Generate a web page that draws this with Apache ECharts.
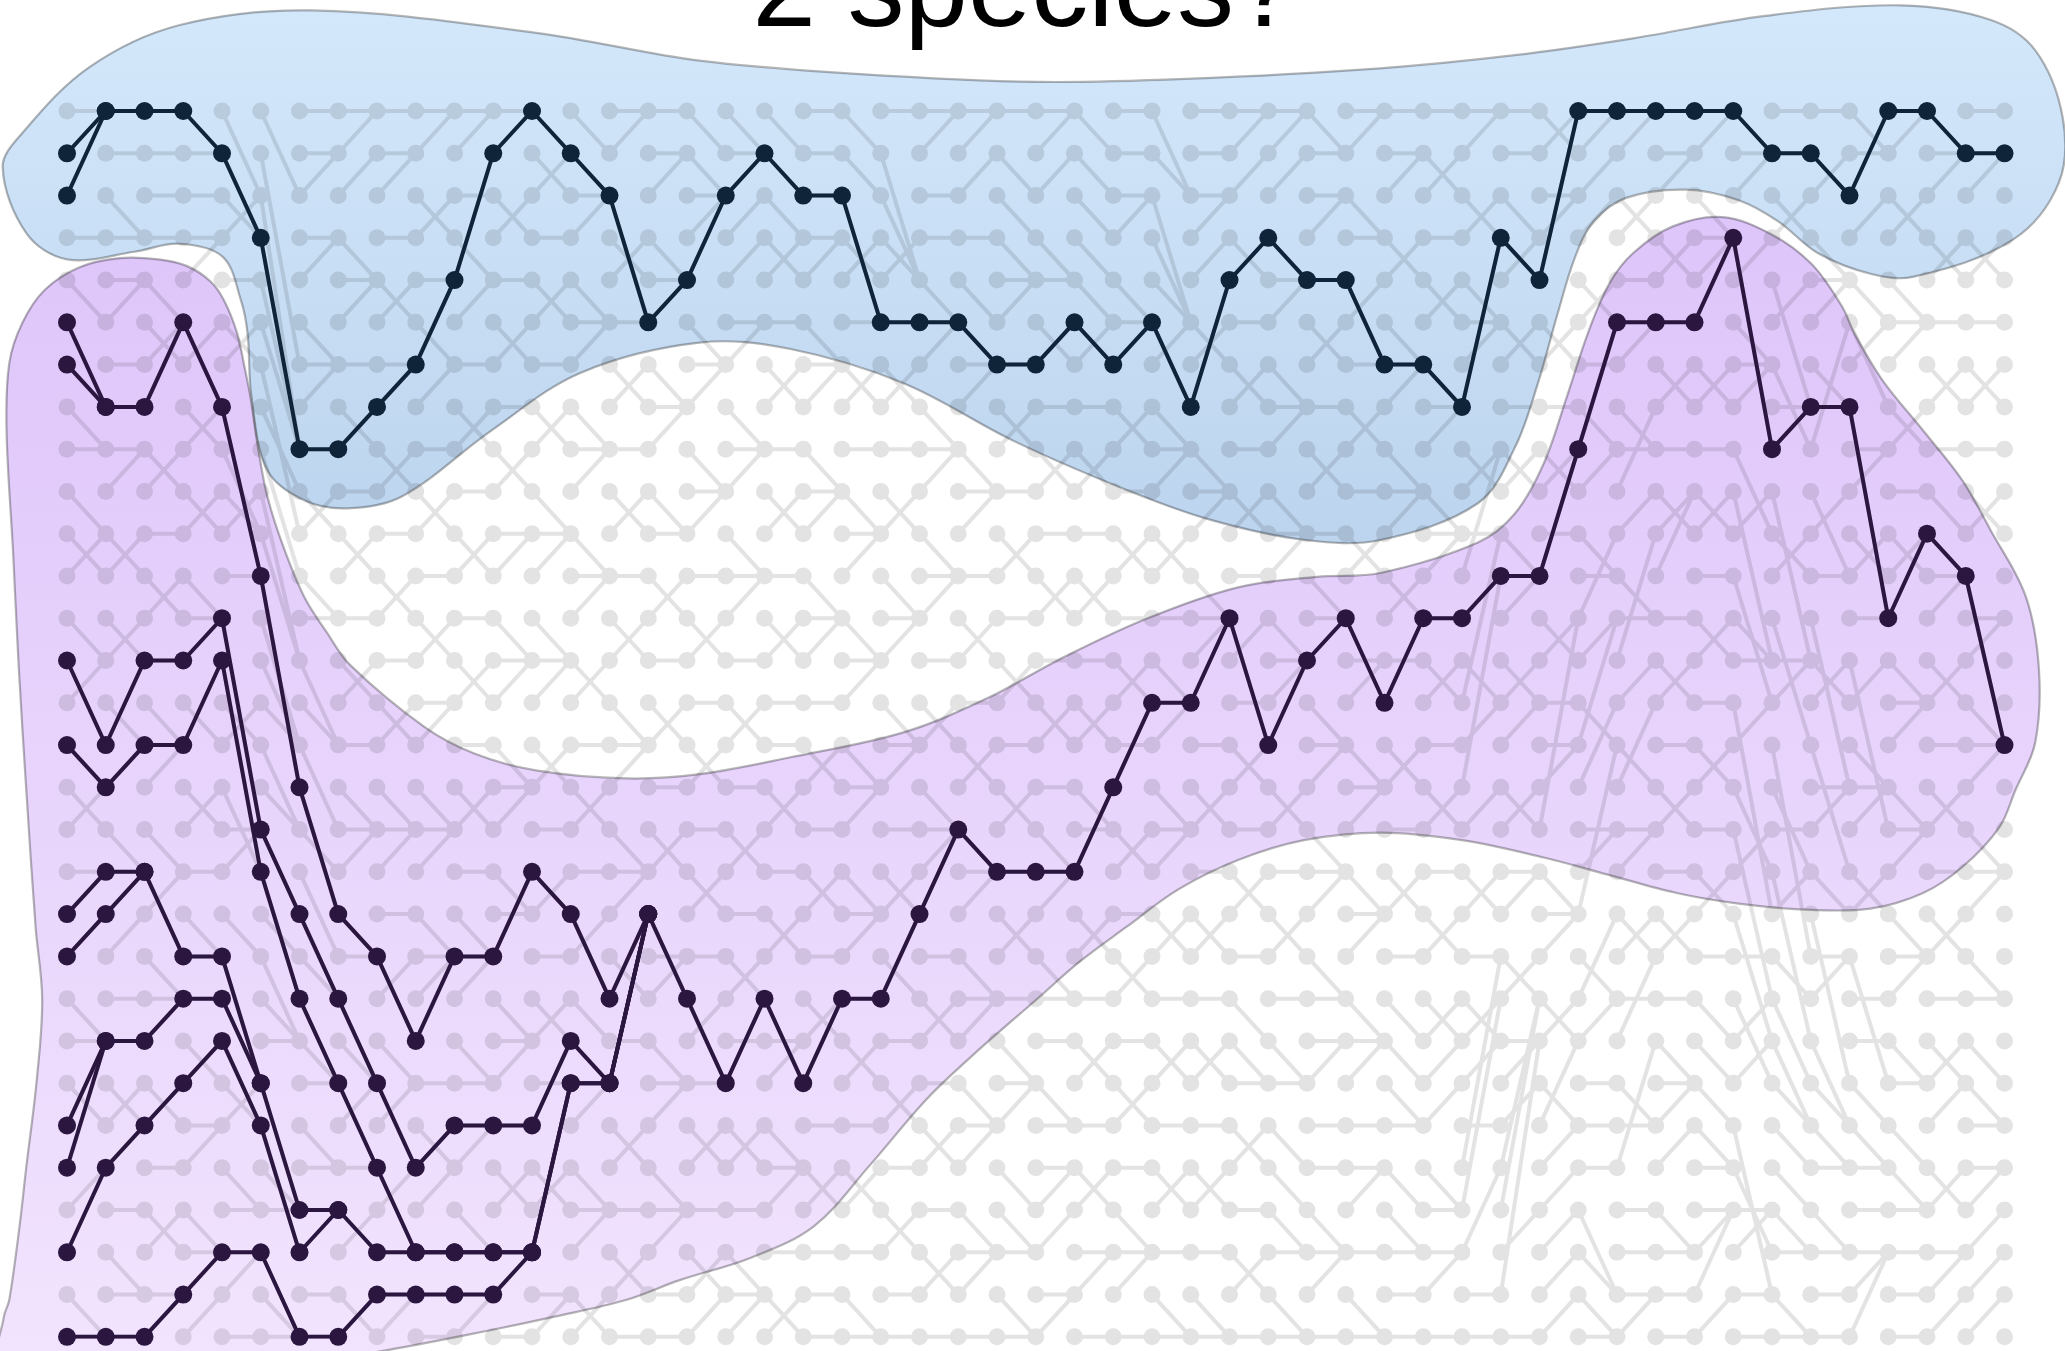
<!DOCTYPE html>
<html><head><meta charset="utf-8">
<script src="https://cdn.jsdelivr.net/npm/echarts@6/dist/echarts.min.js"></script>
<style>html,body{margin:0;padding:0;background:#fff;}#c{width:2065px;height:1351px;}</style>
</head><body><div id="c"></div>
<script>
// ---- data (columns 0..50, rows 0..29, row 0 at top) ----
const NCOLS = 51;
const NROWS = 30;
const titleText = '2 species?';

// blue lineages: row per column, starting at column 0
const blueMain = [1,0,0,0,1,3,8,8,7,6,4,1,0,1,2,5,4,2,1,2,2,5,5,5,6,6,5,6,5,7,4,3,4,4,6,6,7,3,4,0,0,0,0,0,1,1,2,0,0,1,1];
const blueBranch1 = [2,0];

// purple lineages: row per column, starting at column 0
const purpleMain = [5,7,7,5,7,11,16,19,20,22,20,20,18,19,21,19,21,23,21,23,21,21,19,17,18,18,18,16,14,14,12,15,13,12,14,12,12,11,11,8,5,5,5,3,8,7,7,12,10,11,15];
const purpleBranch1 = [6,7];
const purpleBranch2 = [13,15,13,13,12,17,19,21,23,25,24,24,24,22,23,19];
const purpleBranch3 = [15,16,15,15,13,18,21,23,25,27,27,27,27,23,23,19];
const purpleBranch4 = [19,18,18];
const purpleBranch5 = [20,19,18,20,20,23,26,26,27,27,27,27,27,23,23,19];
const purpleBranch6 = [24,22,22,21,21,23];
const purpleBranch7 = [25,22];
const purpleBranch8 = [27,25,24,23,22,24,27,26];
const purpleBranch9 = [29,29,29,28,27,27,29,29,28,28,28,28,27];

// background genealogy: for each column c (0..49), the row of the parent in column c+1 for rows 0..29 (estimated)
const parentsCols0to9 = [
  [0,0,0,3,5,7,7,8,8,10,11,10,13,15,13,16,17,16,18,18,19,22,22,24,22,22,25,25,29,29],
  [0,1,3,3,4,4,6,7,8,8,11,10,13,12,15,13,15,18,18,18,19,21,22,24,23,24,26,28,28,29],
  [0,1,2,3,5,6,5,5,9,8,10,12,11,13,15,15,15,18,20,18,21,21,21,24,23,25,27,26,28,28],
  [1,1,2,3,3,7,5,8,7,10,9,12,12,12,15,13,17,16,18,20,20,21,23,22,24,24,27,27,27,28],
  [2,3,3,2,4,6,5,11,10,10,9,11,17,18,15,14,18,17,17,20,23,23,24,24,23,26,26,27,27,29],
  [2,6,8,8,8,8,10,9,11,13,13,16,15,15,15,17,17,19,21,20,22,22,22,26,27,26,26,29,29,29],
  [0,1,1,3,3,6,6,6,8,10,9,12,12,15,15,17,19,18,20,21,21,23,23,23,25,25,26,26,28,29],
  [0,0,1,4,4,4,6,8,7,9,11,10,12,14,13,15,17,17,17,20,20,23,23,25,23,25,27,26,29,28],
  [0,1,1,3,5,4,6,6,9,8,10,12,11,13,15,14,17,17,17,19,22,20,23,25,23,27,25,27,28,28],
  [0,0,3,2,4,6,4,6,8,10,9,11,13,12,14,14,17,17,17,20,20,20,20,23,25,24,25,27,28,29]
];
const parentsCols10to19 = [
  [0,0,2,4,1,4,6,8,7,9,11,10,12,14,13,15,17,16,18,20,20,20,23,23,24,24,27,27,28,28],
  [0,0,3,2,4,6,5,7,9,8,10,10,13,13,13,16,16,16,19,19,18,22,22,22,24,26,25,27,27,29],
  [1,2,1,3,5,4,6,8,7,10,10,10,13,13,13,16,15,17,19,18,20,22,21,23,22,26,25,23,28,28],
  [1,2,2,2,5,5,5,8,8,8,11,11,11,14,13,15,17,16,18,21,19,22,23,23,23,26,26,26,29,28],
  [0,0,5,4,3,5,7,6,8,10,9,11,13,12,15,15,15,18,18,18,21,19,22,19,25,24,26,28,27,29],
  [0,1,1,4,4,4,7,7,7,10,10,12,11,13,15,14,16,18,17,21,20,20,23,23,23,26,26,26,28,29],
  [1,2,2,2,2,6,6,6,9,9,9,11,13,12,14,16,15,17,19,18,20,23,21,23,25,24,26,28,27,28],
  [1,1,1,2,3,5,5,8,8,8,11,11,11,13,15,14,16,18,17,19,21,20,22,21,25,24,26,28,28,28],
  [1,2,3,4,3,5,7,6,8,10,9,11,13,12,14,15,17,16,18,20,19,23,22,22,25,25,25,27,29,28],
  [0,1,2,3,3,6,6,6,9,9,9,12,12,12,14,16,15,17,19,18,20,22,21,21,24,26,25,27,28,29]
];
const parentsCols20to29 = [
  [1,2,5,4,3,5,7,6,8,10,10,10,13,13,13,16,16,16,19,19,19,21,23,22,24,26,25,27,29,29],
  [0,4,4,4,3,5,7,6,8,10,9,12,12,12,15,15,15,17,19,18,21,19,22,24,23,25,27,26,28,29],
  [0,0,2,3,5,5,5,8,8,8,11,11,11,13,15,14,17,17,17,17,20,22,21,23,25,24,26,28,27,29],
  [0,0,1,3,5,6,6,6,9,9,9,11,13,12,14,16,15,18,18,18,21,21,21,24,24,24,27,27,27,29],
  [0,2,3,4,4,4,6,8,7,9,11,10,12,14,13,15,17,16,18,20,19,21,23,23,23,26,27,27,29,29],
  [0,0,1,4,4,6,5,7,9,8,10,12,11,13,15,14,16,18,18,18,21,21,22,24,24,25,25,26,28,28],
  [1,2,3,4,5,6,5,7,9,8,10,12,11,13,15,14,17,17,16,20,19,21,23,22,24,26,25,27,27,29],
  [0,1,2,2,5,5,5,8,7,9,11,10,12,14,13,15,14,18,17,19,21,20,22,24,23,25,27,27,27,29],
  [2,2,5,5,5,7,5,8,8,8,11,10,12,14,14,14,17,17,17,20,19,21,23,22,24,26,25,27,29,29],
  [0,1,2,2,3,6,5,4,9,9,9,12,12,12,12,15,17,16,18,20,19,21,23,22,24,26,25,27,29,29]
];
const parentsCols30to39 = [
  [0,0,1,4,3,5,7,6,8,10,9,11,15,12,14,16,15,17,19,18,20,22,23,23,25,24,26,28,27,29],
  [0,0,1,4,4,4,7,7,7,10,10,10,13,13,13,13,17,16,18,20,19,21,23,23,25,26,27,27,29,29],
  [1,1,2,2,4,6,5,7,9,8,10,12,12,12,15,15,15,18,18,18,21,21,22,22,24,25,27,27,27,29],
  [0,0,3,3,6,4,6,8,7,9,11,10,14,13,13,16,16,16,19,19,19,22,22,22,24,25,25,27,29,29],
  [0,1,1,4,3,6,6,6,9,9,9,12,11,13,12,16,15,17,19,18,20,22,23,24,24,26,27,27,28,29],
  [0,2,1,3,5,4,7,7,7,10,10,10,12,14,13,15,17,16,18,20,19,22,21,22,23,26,26,27,27,29],
  [0,0,3,2,5,5,5,3,9,8,10,8,11,14,10,14,11,16,19,18,20,22,21,22,24,20,21,25,28,29],
  [0,1,3,4,3,6,5,7,9,8,11,11,11,14,13,14,17,16,18,18,21,20,22,22,23,21,21,26,22,29],
  [1,0,2,2,0,6,5,7,9,8,10,8,13,12,14,15,15,12,19,19,19,22,21,24,22,24,25,26,27,28],
  [0,0,1,2,5,4,6,8,5,8,11,11,10,12,15,12,14,17,17,15,21,19,21,23,24,25,28,28,29,29]
];
const parentsCols40to49 = [
  [0,0,3,2,4,5,5,8,8,7,9,12,12,10,13,16,14,17,17,20,19,21,20,24,24,22,26,27,28,28],
  [0,1,1,4,3,5,7,6,8,10,9,9,12,14,13,15,17,16,18,20,19,21,23,23,23,24,27,27,28,29],
  [0,0,3,3,3,3,7,6,8,10,9,11,13,12,14,16,15,17,19,18,20,22,23,24,25,25,26,26,26,28],
  [1,1,1,8,3,6,6,6,10,13,9,14,13,13,19,14,18,21,17,22,20,23,21,22,28,27,26,26,28,29],
  [0,1,3,2,7,4,8,7,7,13,11,10,15,13,13,20,18,17,22,18,21,23,24,24,25,26,27,27,29,29],
  [0,2,1,4,4,4,7,7,5,11,9,11,16,14,13,18,16,16,19,23,20,20,24,24,25,25,27,27,28,29],
  [1,1,0,2,5,7,5,12,8,8,11,10,12,17,13,16,16,16,19,18,23,21,22,24,25,25,26,27,27,27],
  [0,0,3,2,5,5,5,8,7,9,11,10,10,14,14,14,17,17,17,20,20,20,23,23,25,26,26,27,28,29],
  [1,1,1,4,3,5,7,6,8,10,11,11,11,14,13,15,17,16,18,20,19,21,23,22,23,26,25,27,27,28],
  [0,1,1,4,3,5,7,6,8,10,9,15,12,12,15,15,15,18,18,18,21,21,23,24,24,25,25,26,27,28]
];

// blob outlines in (column, row) units
const blueOutline = [[-1.15,0.52],[0.58,-1.04],[2.89,-2.03],[6.33,-2.38],[12.1,-1.85],[16.32,-1.19],[20.37,-0.88],[25.02,-0.69],[28.86,-0.76],[33.89,-1.01],[37.36,-1.32],[40.42,-1.72],[43.82,-2.25],[47.32,-2.5],[49.63,-2.16],[50.79,-1.44],[51.5,0.15],[51.4,1.7],[50.21,3.05],[47.66,3.92],[46.54,3.85],[45.18,3.36],[44.16,2.61],[43.14,2.11],[41.78,1.86],[40.25,2.05],[39.4,2.61],[38.92,3.45],[38.45,4.85],[37.97,6.41],[37.36,7.97],[36.41,9.28],[33.89,10.15],[31.96,10.15],[29.54,9.68],[27.33,8.96],[24.44,7.81],[21.59,6.44],[18.67,5.63],[16.32,5.48],[13.26,6.19],[10.95,7.56],[8.64,9.12],[7.24,9.4],[6.12,9.21],[5.17,8.5],[4.76,6.75],[4.66,5.26],[4.49,4.48],[4.02,3.45],[2.89,3.14],[1.74,3.33],[0,3.51],[-1.05,2.89],[-1.66,1.33]];
const purpleOutline = [[-1.49,5.97],[-1.15,5.01],[-0.57,4.23],[0.31,3.7],[1.36,3.48],[2.35,3.51],[3.1,3.67],[3.71,4.04],[4.05,4.48],[4.39,5.26],[4.59,6.1],[4.73,6.75],[4.93,7.97],[5.17,9.12],[5.58,10.3],[6.12,11.49],[6.7,12.33],[7.31,13.11],[9.22,14.57],[10.51,15.2],[12.1,15.6],[14.42,15.79],[16.32,15.69],[18.67,15.29],[21.59,14.7],[23.76,13.89],[25.6,12.98],[27.84,12.02],[30.22,11.27],[32.26,11.02],[33.89,10.93],[36.41,10.21],[37.36,9.53],[38.11,8.34],[38.72,6.72],[39.26,5.23],[39.81,4.07],[40.42,3.36],[41.44,2.73],[42.73,2.51],[43.99,2.92],[45.01,3.61],[45.79,4.6],[46.16,5.32],[46.88,6.41],[47.9,7.56],[48.92,8.75],[49.63,9.9],[50.55,11.49],[50.89,13.23],[50.79,14.95],[50.28,16.07],[49.87,16.94],[48.92,17.88],[47.9,18.5],[46.54,18.87],[45.01,18.9],[43.14,18.75],[41.54,18.5],[39.74,18.06],[38.11,17.66],[36,17.25],[33.89,17.07],[31.92,17.25],[30.22,17.72],[28.69,18.41],[27.33,19.31],[26.14,20.12],[25.02,21.02],[23.42,22.3],[22.17,23.39],[20.71,24.95],[19.28,26.38],[17.65,27.13],[15.81,27.66],[14.42,28.13],[12.55,28.53],[10.95,28.84],[8.3,29.31],[5.07,29.78],[1.67,29.93],[-1.73,29.78],[-1.63,28.53],[-1.49,28.13],[-1.22,26.35],[-1.05,24.98],[-0.78,22.92],[-0.64,21.02],[-0.81,19.31],[-1.05,16.07],[-1.25,13.08],[-1.39,10.46],[-1.56,7.56]];

// ---- build ----
function toPts(rows, start) { return rows.map((r, i) => [start + i, r]); }
const latticeDots = [];
for (let c = 0; c < NCOLS; c++) for (let r = 0; r < NROWS; r++) latticeDots.push([c, r]);
const allParents = [].concat(parentsCols0to9, parentsCols10to19, parentsCols20to29, parentsCols30to39, parentsCols40to49);
const latticeEdges = [];
allParents.forEach((col, c) => col.forEach((p, r) => latticeEdges.push([c, r, p])));

const BLUE_DARK = '#0f2339';
const PURPLE_DARK = '#2b1640';
const lineages = [
  [blueMain, BLUE_DARK], [blueBranch1, BLUE_DARK],
  [purpleMain, PURPLE_DARK], [purpleBranch1, PURPLE_DARK], [purpleBranch2, PURPLE_DARK],
  [purpleBranch3, PURPLE_DARK], [purpleBranch4, PURPLE_DARK], [purpleBranch5, PURPLE_DARK],
  [purpleBranch6, PURPLE_DARK], [purpleBranch7, PURPLE_DARK], [purpleBranch8, PURPLE_DARK],
  [purpleBranch9, PURPLE_DARK]
];

const blobs = [
  { pts: blueOutline, c0: '#d4e8fb', c1: '#bcd4ee' },
  { pts: purpleOutline, c0: '#dec5fa', c1: '#f2e4fe' }
];

const chart = echarts.init(document.getElementById('c'), null, { renderer: 'canvas' });
const series = [];
series.push({
  type: 'custom', z: 1, silent: true, animation: false, clip: false,
  data: latticeEdges,
  encode: { x: 0, y: 1 },
  renderItem: function (params, api) {
    const a = api.coord([api.value(0), api.value(1)]);
    const b = api.coord([api.value(0) + 1, api.value(2)]);
    return { type: 'line', shape: { x1: a[0], y1: a[1], x2: b[0], y2: b[1] },
      style: { stroke: '#e3e3e3', lineWidth: 4, lineCap: 'round' } };
  }
});
series.push({
  type: 'scatter', data: latticeDots, symbol: 'circle', symbolSize: 17,
  itemStyle: { color: '#e3e3e3', opacity: 1 }, silent: true, z: 1, animation: false
});
series.push({
  type: 'custom', z: 2, silent: true, animation: false, clip: false,
  blendMode: 'multiply',
  data: blobs.map((b, i) => [i]),
  renderItem: function (params, api) {
    const b = blobs[params.dataIndex];
    const points = b.pts.map(p => api.coord(p));
    return {
      type: 'polygon',
      shape: { points: points, smooth: 0.35 },
      style: {
        fill: new echarts.graphic.LinearGradient(0, 0, 0, 1, [
          { offset: 0, color: b.c0 }, { offset: 1, color: b.c1 }]),
        stroke: '#b5b5b5', lineWidth: 2.2
      }
    };
  }
});
lineages.forEach(([rows, col]) => {
  series.push({
    type: 'line', data: toPts(rows, 0), z: 3, animation: false, silent: true,
    symbol: 'circle', symbolSize: 18, showSymbol: true,
    lineStyle: { color: col, width: 4 }, itemStyle: { color: col, borderWidth: 0 }
  });
});

chart.setOption({
  backgroundColor: '#ffffff',
  animation: false,
  grid: { left: 67, right: 60.5, top: 111, bottom: 14.2 },
  xAxis: { type: 'value', min: 0, max: NCOLS - 1, show: false },
  yAxis: { type: 'value', min: 0, max: NROWS - 1, inverse: true, show: false },
  graphic: [{
    type: 'text', x: 1025, y: -5, z: 10,
    style: { text: titleText, fontSize: 114, fontFamily: 'Liberation Sans, Arial, sans-serif',
      fill: '#000', align: 'center', verticalAlign: 'middle', textAlign: 'center', textVerticalAlign: 'middle' }
  }],
  series: series
});
</script></body></html>
